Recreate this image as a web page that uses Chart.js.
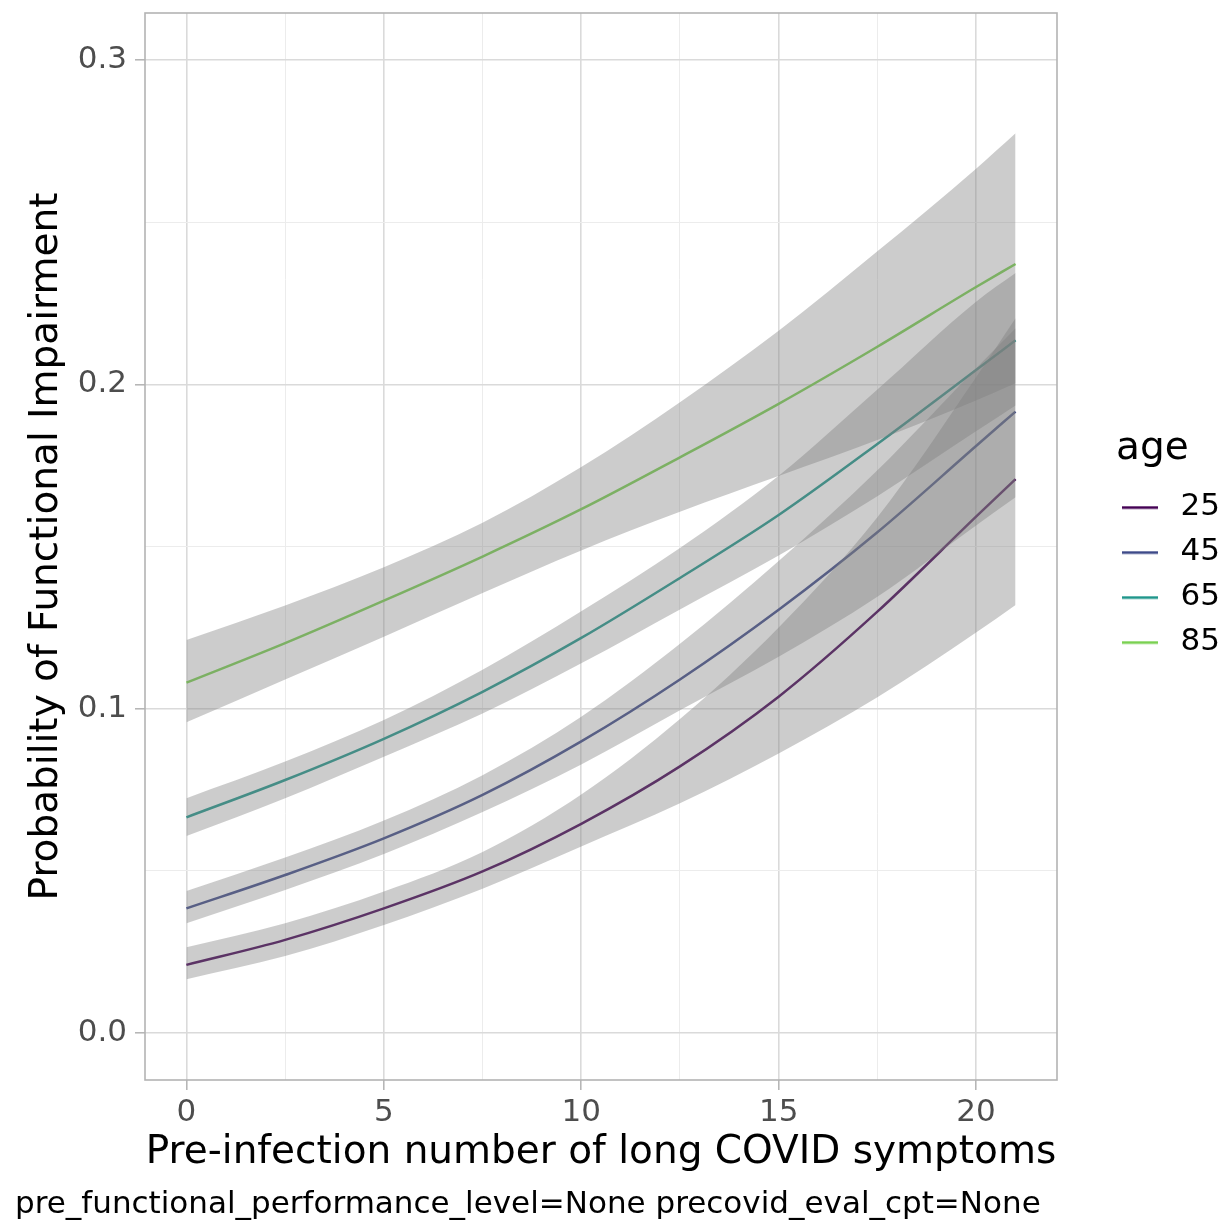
<!DOCTYPE html>
<html>
<head>
<meta charset="utf-8">
<script src="https://cdn.jsdelivr.net/npm/chart.js@4.4.1/dist/chart.umd.min.js"></script>
<style>
html,body{margin:0;padding:0;background:#ffffff;}
#wrap{width:1225px;height:1226px;position:relative;}
</style>
</head>
<body>
<div id="wrap"><canvas id="c"></canvas></div>
<script>
// ---- data ----
const xValues = [0, 2.5, 5, 7.5, 10, 12.5, 15, 17.5, 20, 21];
const ageGroups = ['25', '45', '65', '85'];

const fit25 = [0.0210, 0.0287, 0.0384, 0.0498, 0.0645, 0.0822, 0.1037, 0.1299, 0.1592, 0.1708];
const lo25  = [0.0166, 0.0237, 0.0333, 0.0445, 0.0575, 0.0708, 0.0862, 0.1035, 0.1235, 0.1320];
const hi25  = [0.0264, 0.0338, 0.0436, 0.0558, 0.0735, 0.0968, 0.1250, 0.1590, 0.2022, 0.2204];

const fit45 = [0.0384, 0.0487, 0.0600, 0.0734, 0.0899, 0.1090, 0.1305, 0.1544, 0.1810, 0.1916];
const lo45  = [0.0338, 0.0441, 0.0552, 0.0681, 0.0828, 0.0995, 0.1160, 0.1345, 0.1565, 0.1652];
const hi45  = [0.0438, 0.0541, 0.0655, 0.0795, 0.0975, 0.1200, 0.1455, 0.1735, 0.2050, 0.2173];

const fit65 = [0.0665, 0.0780, 0.0907, 0.1052, 0.1218, 0.1403, 0.1597, 0.1816, 0.2044, 0.2136];
const lo65  = [0.0607, 0.0724, 0.0852, 0.0985, 0.1140, 0.1306, 0.1472, 0.1655, 0.1855, 0.1935];
const hi65  = [0.0724, 0.0837, 0.0965, 0.1120, 0.1300, 0.1495, 0.1718, 0.1984, 0.2255, 0.2343];

const fit85 = [0.1080, 0.1202, 0.1333, 0.1469, 0.1615, 0.1775, 0.1940, 0.2116, 0.2300, 0.2371];
const lo85  = [0.0958, 0.1090, 0.1222, 0.1357, 0.1488, 0.1607, 0.1717, 0.1828, 0.1950, 0.2003];
const hi85  = [0.1212, 0.1318, 0.1436, 0.1573, 0.1745, 0.1945, 0.2165, 0.2410, 0.2665, 0.2774];

const xTickValues = [0, 2.5, 5, 7.5, 10, 12.5, 15, 17.5, 20];
const xTickLabels = ['0', '', '5', '', '10', '', '15', '', '20'];
const yTickValues = [0, 0.05, 0.1, 0.15, 0.2, 0.25, 0.3];
const yTickLabels = ['0.0', '', '0.1', '', '0.2', '', '0.3'];

const xTitle = 'Pre-infection number of long COVID symptoms';
const yTitle = 'Probability of Functional Impairment';
const legendTitle = 'age';
const captionText = 'pre_functional_performance_level=None precovid_eval_cpt=None';

// ---- styling ----
const FONT = "'DejaVu Sans', sans-serif";
const lineColors = ['#440154', '#3E4A89', '#1F968B', '#7AD151'];
const bandColor = 'rgba(127,127,127,0.40)';

const fits = [fit25, fit45, fit65, fit85];
const los = [lo25, lo45, lo65, lo85];
const his = [hi25, hi45, hi65, hi85];

function pts(ys) { return xValues.map((x, i) => ({ x: x, y: ys[i] })); }

const datasets = [];
fits.forEach((f, i) => {
  datasets.push({
    label: ageGroups[i], data: pts(f), borderColor: lineColors[i], backgroundColor: lineColors[i],
    borderWidth: 2.5, pointRadius: 0, fill: false, cubicInterpolationMode: 'monotone', order: 1
  });
});
fits.forEach((f, i) => {
  const lowIdx = datasets.length;
  datasets.push({
    label: 'lower ' + ageGroups[i], data: pts(los[i]), borderWidth: 0, borderColor: 'rgba(0,0,0,0)',
    pointRadius: 0, fill: false, cubicInterpolationMode: 'monotone', order: 0
  });
  datasets.push({
    label: 'upper ' + ageGroups[i], data: pts(his[i]), borderWidth: 0, borderColor: 'rgba(0,0,0,0)',
    pointRadius: 0, fill: lowIdx, backgroundColor: bandColor, cubicInterpolationMode: 'monotone', order: 0
  });
});

// legend key: a short line inside a slightly wider key box
function keyCanvas(color) {
  const c = document.createElement('canvas');
  c.width = 43; c.height = 6;
  const g = c.getContext('2d');
  g.fillStyle = color;
  g.fillRect(0, 2, 36, 2.6);
  return c;
}
const keyImgs = lineColors.map(keyCanvas);

const isMajorX = v => { const k = xTickValues.indexOf(v); return k >= 0 && xTickLabels[k] !== ''; };
const isMajorY = v => { const k = yTickValues.findIndex(t => Math.abs(t - v) < 1e-9); return k >= 0 && yTickLabels[k] !== ''; };

const panelBorder = {
  id: 'panelBorder',
  afterDatasetsDraw(chart) {
    const a = chart.chartArea, ctx = chart.ctx;
    ctx.save();
    ctx.strokeStyle = '#b3b3b3';
    ctx.lineWidth = 1.6;
    ctx.strokeRect(a.left, a.top, a.right - a.left, a.bottom - a.top);
    ctx.restore();
  }
};

function noPad(s) { s.paddingTop = 0; s.paddingBottom = 0; s.paddingLeft = 0; s.paddingRight = 0; }

new Chart(document.getElementById('c'), {
  type: 'line',
  data: { datasets: datasets },
  plugins: [panelBorder],
  options: {
    responsive: true,
    maintainAspectRatio: false,
    animation: false,
    events: [],
    layout: { padding: { left: 15, right: 0, top: 13, bottom: 0 } },
    scales: {
      x: {
        type: 'linear', min: -1.05, max: 22.05,
        afterBuildTicks: axis => { axis.ticks = xTickValues.map(v => ({ value: v })); },
        ticks: {
          autoSkip: false, maxRotation: 0, padding: 4,
          callback: (v) => { const k = xTickValues.indexOf(v); return k >= 0 ? xTickLabels[k] : ''; },
          font: { family: FONT, size: 31 }, color: '#4d4d4d'
        },
        grid: {
          color: c => (c.tick && isMajorX(c.tick.value)) ? '#dadada' : '#ececec',
          lineWidth: c => (c.tick && isMajorX(c.tick.value)) ? 1.6 : 1,
          tickColor: c => (c.tick && isMajorX(c.tick.value)) ? '#b3b3b3' : 'rgba(0,0,0,0)',
          tickLength: 10, tickWidth: 1.5, drawTicks: true
        },
        border: { display: false },
        title: { display: true, text: xTitle, font: { family: FONT, size: 39 }, color: '#000000', padding: { top: 0, bottom: 11 } },
        afterFit: s => { s.height = 106.8; noPad(s); }
      },
      y: {
        type: 'linear', position: 'left', min: -0.0145, max: 0.3145,
        afterBuildTicks: axis => { axis.ticks = yTickValues.map(v => ({ value: v })); },
        ticks: {
          autoSkip: false, padding: 8,
          callback: (v) => { const k = yTickValues.findIndex(t => Math.abs(t - v) < 1e-9); return k >= 0 ? yTickLabels[k] : ''; },
          font: { family: FONT, size: 31 }, color: '#4d4d4d'
        },
        grid: {
          color: c => (c.tick && isMajorY(c.tick.value)) ? '#dadada' : '#ececec',
          lineWidth: c => (c.tick && isMajorY(c.tick.value)) ? 1.6 : 1,
          tickColor: c => (c.tick && isMajorY(c.tick.value)) ? '#b3b3b3' : 'rgba(0,0,0,0)',
          tickLength: 10, tickWidth: 1.5, drawTicks: true
        },
        border: { display: false },
        title: { display: true, text: yTitle, font: { family: FONT, size: 39 }, color: '#000000', padding: { top: 8, bottom: 0 } },
        afterFit: s => { s.width = 130; noPad(s); }
      },
      spacer: {
        type: 'linear', position: 'right', display: true,
        grid: { display: false, drawTicks: false },
        ticks: { display: false },
        border: { display: false },
        afterFit: s => { s.width = 59; noPad(s); }
      }
    },
    plugins: {
      tooltip: { enabled: false },
      title: { display: false },
      subtitle: {
        display: true, text: captionText, position: 'bottom', align: 'start',
        font: { family: FONT, size: 31, weight: 'normal' }, color: '#000000',
        padding: { top: 0, bottom: 2 }
      },
      legend: {
        display: true, position: 'right', align: 'center', fullSize: false, maxWidth: 109,
        title: { display: true, text: legendTitle, position: 'start', font: { family: FONT, size: 39 }, color: '#000000', padding: { top: 8.5, bottom: 9.3 } },
        labels: {
          usePointStyle: true, pointStyleWidth: 43, padding: 6,
          font: { family: FONT, size: 31, lineHeight: 39 / 31 }, color: '#000000',
          generateLabels: () => ageGroups.map((g, i) => ({
            text: [g], pointStyle: keyImgs[i], fillStyle: lineColors[i], strokeStyle: lineColors[i],
            lineWidth: 0, hidden: false, datasetIndex: i, fontColor: '#000000'
          }))
        }
      }
    }
  }
});
</script>
</body>
</html>
